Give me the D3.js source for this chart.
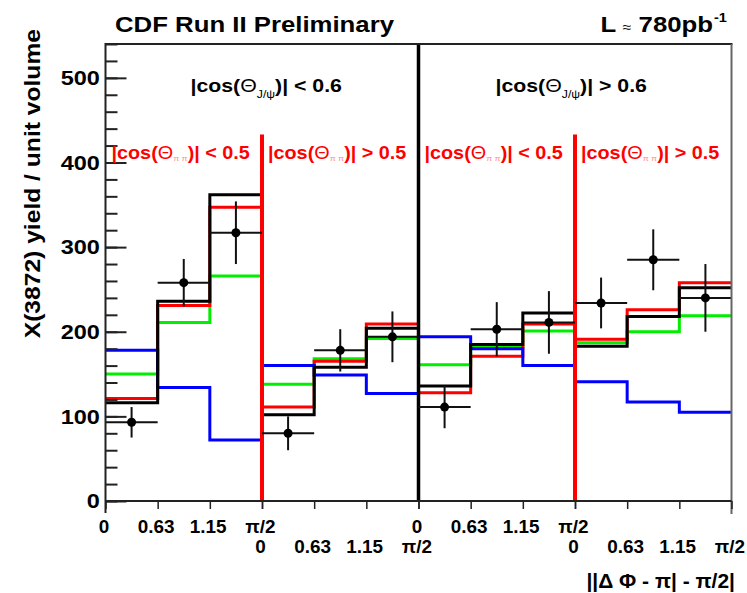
<!DOCTYPE html>
<html>
<head>
<meta charset="utf-8">
<script src="https://cdn.jsdelivr.net/npm/d3@7"></script>
<style>
    body { margin: 0; background: #fff; }
    text { font-family: "Liberation Sans", Arial, Helvetica, sans-serif; font-weight: bold; }
</style>
</head>
<body>
<svg id="chart"></svg>
<script>
// 4 panels x 3 bins, each bin pi/6 wide
const binEdges = d3.range(13).map((i) => (i * Math.PI) / 6);
const fitTotal = [116, 236, 362, 102, 158, 204, 136, 185, 222, 183, 218, 252];
const fitRed = [121, 231, 347, 111, 165, 209, 128, 171, 209, 191, 226, 258];
const fitGreen = [150, 211, 266, 138, 168, 192, 161, 182, 201, 187, 200, 219];
const fitBlue = [178, 134, 72, 160, 149, 127, 194, 180, 160, 141, 117, 105];
const dataYield = [93, 258, 317, 80, 178, 194, 111, 203, 211, 234, 285, 240];
const dataError = [18, 28, 37, 20, 25, 30, 25, 32, 37, 30, 36, 40];
const xTickLabels = ["0", "0.63", "1.15", "π/2"];
const yTickValues = [0, 100, 200, 300, 400, 500];
const jpsiCuts = ["< 0.6", "> 0.6"];
const pipiCuts = ["< 0.5", "> 0.5", "< 0.5", "> 0.5"];

const width = 747,
    height = 593;
const plotLeft = 105.5,
    plotRight = 731.5,
    plotTop = 44,
    plotBottom = 501;

const svg = d3.select("#chart").attr("width", width).attr("height", height);

const xScale = d3.scaleLinear().domain([0, 2 * Math.PI]).range([plotLeft, plotRight]);
const yScale = d3.scaleLinear().domain([0, 540]).range([plotBottom, plotTop]);

// text helper: stretched a bit sideways to match the reference font
const addText = (x, y, size, anchor, parts, fill = "#000", sx = 1.12, rot = 0) => {
    const t = svg
        .append("text")
        .attr("transform", `translate(${x},${y}) rotate(${rot}) scale(${sx},1)`)
        .attr("text-anchor", anchor)
        .attr("font-size", size)
        .attr("fill", fill);
    parts.forEach((p) => {
        const s = t.append("tspan").text(p.t);
        if (p.size) s.attr("font-size", p.size);
        if (p.dy) s.attr("dy", p.dy);
        if (p.fill) s.attr("fill", p.fill);
        if (p.normal) s.attr("font-weight", "normal");
    });
    return t;
};

// histograms
const stepLine = d3
    .line()
    .x((d) => xScale(d[0]))
    .y((d) => yScale(d[1]))
    .curve(d3.curveStepAfter);

const drawHist = (values, color) => {
    const pts = binEdges.map((e, i) => [e, values[Math.min(i, values.length - 1)]]);
    svg.append("path")
        .attr("d", stepLine(pts))
        .attr("fill", "none")
        .attr("stroke", color)
        .attr("stroke-width", 3);
};
drawHist(fitGreen, "#00ee00");
drawHist(fitRed, "#ff0000");
drawHist(fitBlue, "#0000ff");
drawHist(fitTotal, "#000");

// panel separators
[3, 9].forEach((i) => {
    svg.append("line")
        .attr("x1", xScale(binEdges[i]))
        .attr("x2", xScale(binEdges[i]))
        .attr("y1", yScale(0))
        .attr("y2", yScale(433))
        .attr("stroke", "#ff0000")
        .attr("stroke-width", 4);
});
svg.append("line")
    .attr("x1", xScale(binEdges[6]))
    .attr("x2", xScale(binEdges[6]))
    .attr("y1", yScale(0))
    .attr("y2", yScale(540))
    .attr("stroke", "#000")
    .attr("stroke-width", 3.5);

// data points with error bars
const pts = svg.append("g").attr("stroke", "#111").attr("stroke-width", 2);
dataYield.forEach((v, i) => {
    const cx = xScale((binEdges[i] + binEdges[i + 1]) / 2);
    pts.append("line")
        .attr("x1", xScale(binEdges[i]))
        .attr("x2", xScale(binEdges[i + 1]))
        .attr("y1", yScale(v))
        .attr("y2", yScale(v));
    pts.append("line")
        .attr("x1", cx)
        .attr("x2", cx)
        .attr("y1", yScale(v - dataError[i]))
        .attr("y2", yScale(v + dataError[i]));
    pts.append("circle")
        .attr("cx", cx)
        .attr("cy", yScale(v))
        .attr("r", 4.5)
        .attr("fill", "#000")
        .attr("stroke", "none");
});

// frame
svg.append("line").attr("x1", plotLeft).attr("x2", plotRight + 1).attr("y1", plotTop).attr("y2", plotTop)
    .attr("stroke", "#222").attr("stroke-width", 2);
svg.append("line").attr("x1", plotRight).attr("x2", plotRight).attr("y1", plotTop).attr("y2", plotBottom + 13)
    .attr("stroke", "#666").attr("stroke-width", 2);

// y axis, ticks pointing inward
const yMinor = d3.axisLeft(yScale).tickValues(d3.range(0, 541, 20))
    .tickSizeInner(-12).tickSizeOuter(0).tickFormat(() => "");
const yMajor = d3.axisLeft(yScale).tickValues(yTickValues)
    .tickSizeInner(-21).tickSizeOuter(0).tickPadding(5);
svg.append("g").attr("transform", `translate(${plotLeft},0)`).call(yMinor);
const gy = svg.append("g").attr("transform", `translate(${plotLeft},0)`).call(yMajor);
svg.selectAll(".domain").remove();
svg.selectAll(".tick line").attr("stroke", "#222").attr("stroke-width", 2);
gy.selectAll("text")
    .attr("font-size", 21)
    .attr("fill", "#000")
    .attr("transform", "scale(1.12,1)")
    .attr("font-family", null);
svg.append("line").attr("x1", plotLeft).attr("x2", plotLeft).attr("y1", plotTop - 1).attr("y2", plotBottom + 12)
    .attr("stroke", "#222").attr("stroke-width", 2);

// x axis, two label rows
const row1 = [0, 1, 2, 3, 6, 7, 8, 9];
const row2 = [3, 4, 5, 6, 9, 10, 11, 12];
const xRow = (idx, pad) =>
    d3.axisBottom(xScale)
        .tickValues(idx.map((i) => binEdges[i]))
        .tickFormat((d, i) => xTickLabels[i % 4])
        .tickSizeInner(8)
        .tickSizeOuter(0)
        .tickPadding(pad);
[[row1, 11.5], [row2, 31]].forEach(([idx, pad]) => {
    const g = svg.append("g").attr("transform", `translate(0,${plotBottom})`).call(xRow(idx, pad));
    g.select(".domain").remove();
    g.selectAll(".tick line").attr("stroke", "#222").attr("stroke-width", 1.5);
    g.selectAll("text")
        .attr("font-size", 18)
        .attr("fill", "#000")
        .attr("dx", -2)
        .attr("transform", "scale(1.05,1)")
        .attr("font-family", null);
});
svg.append("line").attr("x1", plotLeft).attr("x2", plotRight).attr("y1", plotBottom).attr("y2", plotBottom)
    .attr("stroke", "#222").attr("stroke-width", 2);

// titles
addText(115, 31.5, 23, "start", [{ t: "CDF Run II Preliminary" }]);
addText(713, 31.5, 23, "end", [{ t: "L " }, { t: "≈", size: 14, normal: true }, { t: " 780pb" }]);
addText(714, 22, 13, "start", [{ t: "-1" }]);
addText(40, 29, 22, "end", [{ t: "X(3872) yield / unit volume" }], "#000", 1.12, -90);
addText(735, 588, 20, "end", [{ t: "||Δ Φ - π| - π/2|" }], "#000", 1.05);

jpsiCuts.forEach((c, k) => {
    addText(xScale(binEdges[6 * k]) + (k === 0 ? 85 : 77), 92, 19, "start", [
        { t: "|cos(" },
        { t: "Θ", normal: true },
        { t: "J/ψ", size: 11, dy: 6, normal: true },
        { t: ")| " + c, dy: -6 },
    ]);
});

pipiCuts.forEach((c, k) => {
    addText(xScale(binEdges[3 * k]) + 6, 159, 18, "start", [
        { t: "|cos(" },
        { t: "Θ", normal: true },
        { t: "π π", size: 8, dy: 2, fill: "#ff9090", normal: true },
        { t: ")| " + c, dy: -2 },
    ], "#ff0000", 1.1);
});
</script>
</body>
</html>
